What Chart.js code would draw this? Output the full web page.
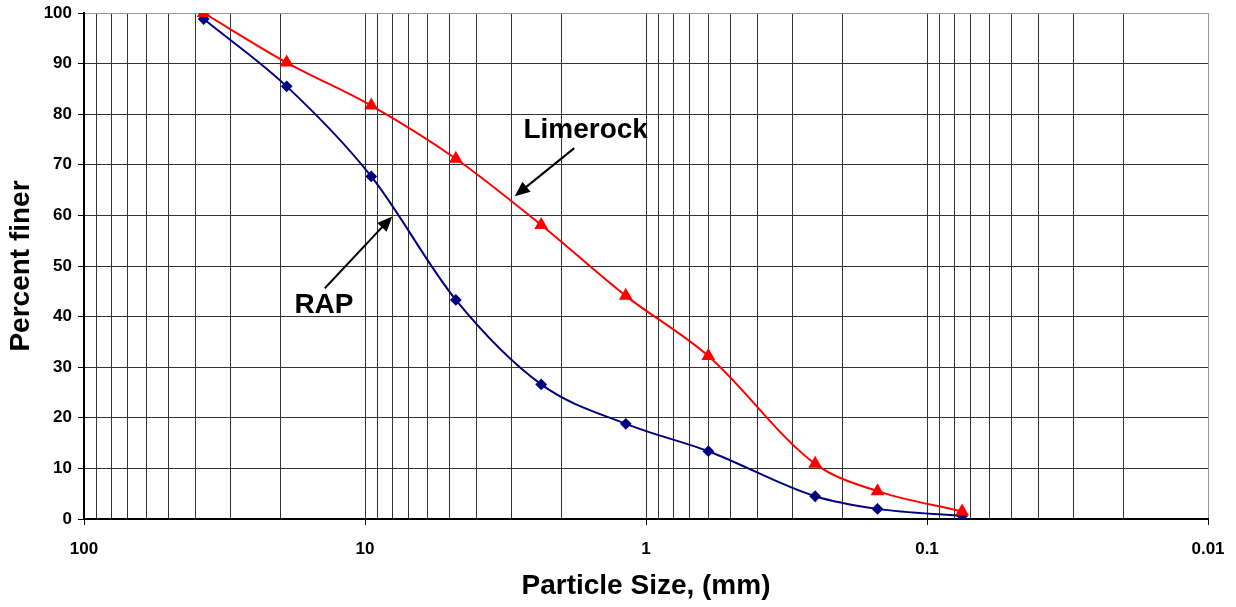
<!DOCTYPE html>
<html><head><meta charset="utf-8">
<script src="https://cdn.jsdelivr.net/npm/chart.js@4.4.1/dist/chart.umd.min.js"></script>
<style>html,body{margin:0;padding:0;background:#fff;}#wrap{width:1236px;height:607px;}</style>
</head><body><div id="wrap"><canvas id="c" width="1236" height="607"></canvas></div>
<script>
const sieveSizes = [37.5, 19, 9.5, 4.75, 2.36, 1.18, 0.6, 0.25, 0.15, 0.075];
const limerock = [100, 90.2, 81.7, 71.2, 58.1, 44.1, 32.2, 10.9, 5.5, 1.5];
const rap = [98.8, 85.5, 67.7, 43.3, 26.6, 18.8, 13.4, 4.5, 2.0, 0.6];
const yTicks = [0,10,20,30,40,50,60,70,80,90,100];
const xMajor = [100, 10, 1, 0.1, 0.01];
const xTickLabels = ['100','10','1','0.1','0.01'];
const annotations = [
  {text:'Limerock', tx:1.64, ty:76.8, from:[1.80,73.3], to:[2.93,63.8]},
  {text:'RAP', tx:14.0, ty:42.3, from:[13.9,45.6], to:[8.0,59.8]}
];
const FONT = '"Liberation Sans", Arial, sans-serif';

const xTickVals = [];
for (let e = 2; e >= -2; e--) {
  const base = Math.pow(10, e);
  xTickVals.push(base);
  if (e > -2) for (let m = 9; m >= 2; m--) xTickVals.push(+(m*base/10).toPrecision(6));
}
const isMajor = v => xMajor.some(m => Math.abs(Math.log10(v) - Math.log10(m)) < 1e-6);

const arrowPlugin = {
  id: 'arrows',
  afterDatasetsDraw(chart) {
    const {ctx, scales:{x, y}} = chart;
    ctx.save();
    annotations.forEach(a => {
      ctx.font = 'bold 28px ' + FONT;
      ctx.fillStyle = '#000';
      ctx.textAlign = 'center';
      ctx.textBaseline = 'middle';
      ctx.fillText(a.text, x.getPixelForValue(a.tx), y.getPixelForValue(a.ty));
      const x1 = x.getPixelForValue(a.from[0]), y1 = y.getPixelForValue(a.from[1]);
      const x2 = x.getPixelForValue(a.to[0]), y2 = y.getPixelForValue(a.to[1]);
      const ang = Math.atan2(y2 - y1, x2 - x1);
      const hl = 15, hw = 6.5;
      ctx.strokeStyle = '#000'; ctx.lineWidth = 2;
      ctx.beginPath();
      ctx.moveTo(x1, y1);
      ctx.lineTo(x2 - hl*Math.cos(ang)*0.8, y2 - hl*Math.sin(ang)*0.8);
      ctx.stroke();
      ctx.beginPath();
      ctx.moveTo(x2, y2);
      ctx.lineTo(x2 - hl*Math.cos(ang) + hw*Math.sin(ang), y2 - hl*Math.sin(ang) - hw*Math.cos(ang));
      ctx.lineTo(x2 - hl*Math.cos(ang) - hw*Math.sin(ang), y2 - hl*Math.sin(ang) + hw*Math.cos(ang));
      ctx.closePath();
      ctx.fill();
    });
    ctx.restore();
  }
};

new Chart(document.getElementById('c'), {
  type: 'line',
  data: {
    datasets: [
      { label: 'Limerock', data: sieveSizes.map((s,i)=>({x:s, y:limerock[i]})),
        borderColor: '#FF0000', backgroundColor: '#FF0000', borderWidth: 2,
        pointStyle: 'triangle', pointRadius: 6, pointHoverRadius: 6, tension: 0.4, cubicInterpolationMode: 'monotone' },
      { label: 'RAP', data: sieveSizes.map((s,i)=>({x:s, y:rap[i]})),
        borderColor: '#000080', backgroundColor: '#000080', borderWidth: 2,
        pointStyle: 'rectRot', pointRadius: 4.5, pointHoverRadius: 4.5, tension: 0.4, cubicInterpolationMode: 'monotone' }
    ]
  },
  options: {
    responsive: false, animation: false,
    layout: { padding: { top: 13, right: 28, left: 0, bottom: 0 } },
    plugins: { legend: { display: false }, tooltip: { enabled: false } },
    scales: {
      x: {
        type: 'logarithmic', reverse: true, min: 0.01, max: 100,
        afterBuildTicks: s => { s.ticks = xTickVals.map(v => ({value: v})); },
        afterFit: s => { s.height = 88; s.paddingLeft = 0; s.paddingRight = 0; },
        ticks: {
          autoSkip: false, maxRotation: 0, padding: 14, color: '#000',
          font: { family: FONT, size: 17, weight: 'bold' },
          callback: (v) => { const i = xMajor.findIndex(m => Math.abs(Math.log10(v)-Math.log10(m))<1e-6); return i>=0 ? xTickLabels[i] : ''; }
        },
        grid: {
          color: c => (c.tick && Math.abs(c.tick.value - 0.01) < 1e-9) ? '#999' : '#333',
          lineWidth: 1, drawTicks: true, tickLength: 6,
          tickColor: c => (c.tick && isMajor(c.tick.value)) ? '#000' : 'rgba(0,0,0,0)'
        },
        border: { color: '#000', width: 2 },
        title: { display: true, text: 'Particle Size, (mm)', color: '#000',
          font: { family: FONT, size: 28, weight: 'bold' }, padding: { top: 4, bottom: 4 } }
      },
      y: {
        min: 0, max: 100,
        afterBuildTicks: s => { s.ticks = yTicks.map(v => ({value: v})); },
        afterFit: s => { s.width = 84; s.paddingTop = 0; s.paddingBottom = 0; },
        ticks: { color: '#000', padding: 6, font: { family: FONT, size: 17, weight: 'bold' } },
        grid: {
          color: c => (c.tick && c.tick.value === 100) ? '#999' : '#333',
          lineWidth: 1, tickLength: 6, tickColor: '#000'
        },
        border: { color: '#000', width: 2 },
        title: { display: true, text: 'Percent finer', color: '#000',
          font: { family: FONT, size: 28, weight: 'bold' }, padding: { top: 4, bottom: 4 } }
      }
    }
  },
  plugins: [arrowPlugin]
});
</script></body></html>
